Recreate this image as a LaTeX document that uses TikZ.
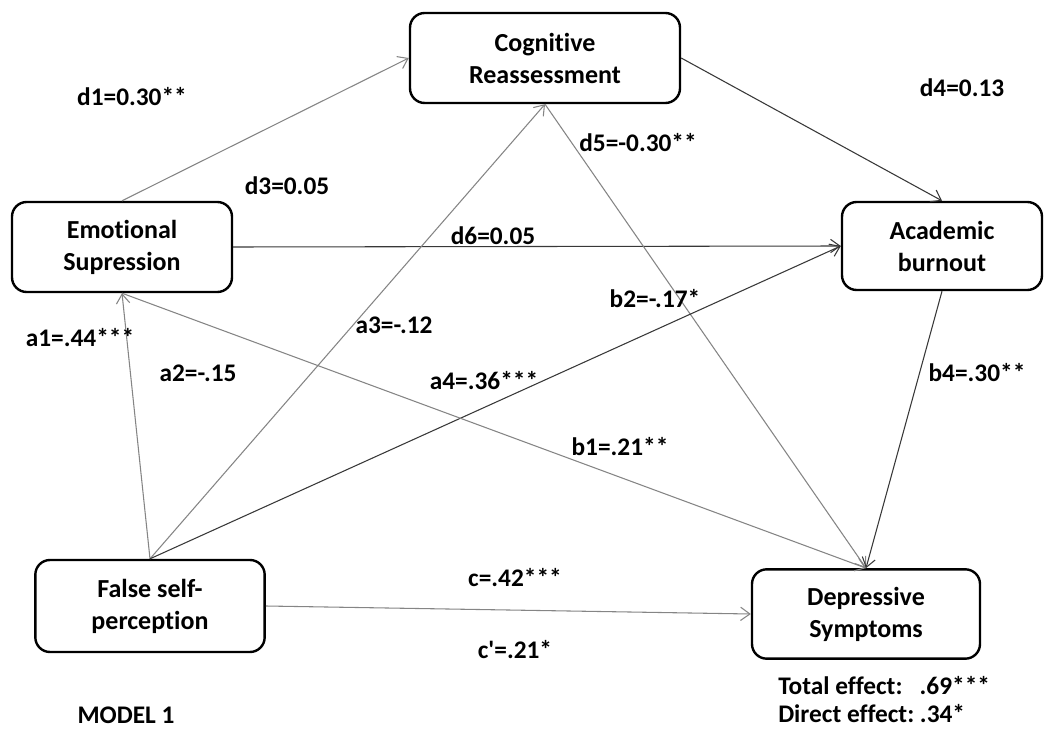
\documentclass[tikz,border=0pt]{standalone}
\usepackage{fontspec}
\setmainfont{Carlito}[Ligatures={NoCommon}]
\usetikzlibrary{arrows.meta}

\begin{document}
\begin{tikzpicture}[x=0.75pt,y=0.75pt,yscale=-1,xscale=1,
    varbox/.style={draw, line width=1.8pt, rounded corners=11pt, align=center, inner sep=0pt,
        font=\bfseries\fontsize{19.5}{24}\selectfont},
    coef/.style={inner sep=0.75pt, font=\bfseries\fontsize{19}{22}\selectfont},
    lightpath/.style={draw=black!48, line width=0.8pt, -{Straight Barb[length=7pt,width=10pt]}},
    darkpath/.style={draw=black!78, line width=0.8pt, -{Straight Barb[length=7pt,width=10pt]}}]

    \useasboundingbox (0,0) rectangle (1046,731);

    % Boxes
    \node [varbox, minimum width=202.5pt, minimum height=67.5pt] (cr) at (545,58) {Cognitive\\Reassessment};
    \node [varbox, minimum width=165pt, minimum height=67.5pt] (es) at (122,247) {Emotional\\Supression};
    \node [varbox, minimum width=150pt, minimum height=66pt] (ab) at (942,246) {Academic\\burnout};
    \node [varbox, minimum width=172pt, minimum height=69pt] (fsp) at (150,606) {False self-\\perception};
    \node [varbox, minimum width=171pt, minimum height=67pt] (ds) at (866,614) {Depressive\\Symptoms};

    % Paths
    \draw [lightpath] (es.north) -- (cr.west);
    \draw [darkpath] (cr.east) -- (ab.north);
    \draw [darkpath] (es.east) -- (ab.west);
    \draw [lightpath] (cr.south) -- (ds.north);
    \draw [lightpath] (fsp.north) -- (es.south);
    \draw [lightpath] (fsp.north) -- (cr.south);
    \draw [darkpath] (fsp.north) -- (ab.west);
    \draw [lightpath] (es.south) -- (ds.north);
    \draw [darkpath] (ab.south) -- (ds.north);
    \draw [lightpath] (fsp.east) -- (ds.west);

    % Coefficients
    \node [coef] (d1) at (132,97) {d1=0.30**};
    \node [coef] (d3) at (287,186) {d3=0.05};
    \node [coef] (d6) at (493,236) {d6=0.05};
    \node [coef] (d5) at (638,143) {d5=-0.30**};
    \node [coef] (d4) at (962,88) {d4=0.13};
    \node [coef] (b2) at (655,299) {b2=-.17*};
    \node [coef] (a3) at (394,325) {a3=-.12};
    \node [coef] (a1) at (80,338) {a1=.44***};
    \node [coef] (a2) at (198,373) {a2=-.15};
    \node [coef] (a4) at (484,381) {a4=.36***};
    \node [coef] (b1) at (620,447) {b1=.21**};
    \node [coef] (b4) at (977,373) {b4=.30**};
    \node [coef] (c) at (515,578) {c=.42***};
    \node [coef] (cp) at (515,650) {c\textquotesingle=.21*};

    % Effects
    \node [coef, anchor=west] (total) at (777,686) {Total effect:\ \ \ .69***};
    \node [coef, anchor=west] (direct) at (777,714) {Direct effect:\ .34*};
    \node [coef] (model) at (126,715) {MODEL 1};

\end{tikzpicture}
\end{document}
